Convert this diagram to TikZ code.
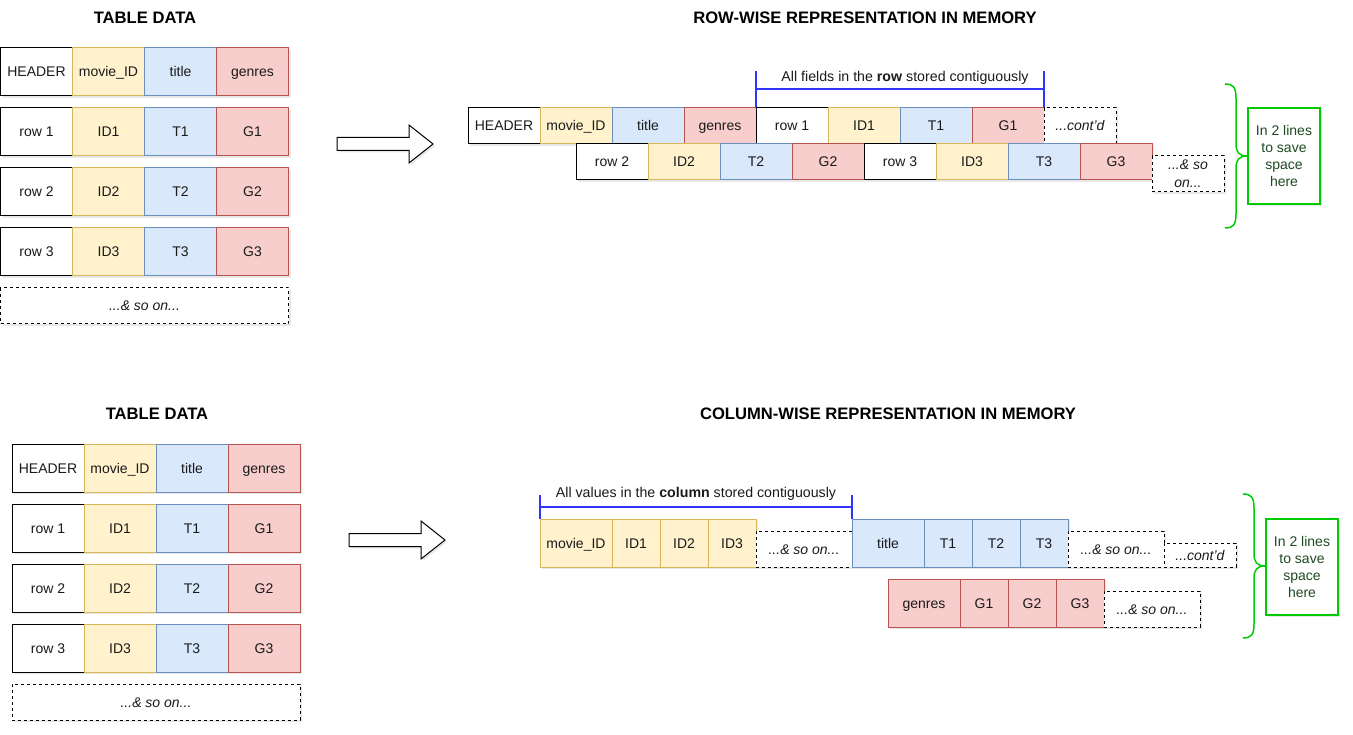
\documentclass[tikz,border=0pt]{standalone}
\usepackage{fontspec}
\setmainfont{Liberation Sans}
\usetikzlibrary{shadows,calc}
\definecolor{yfill}{HTML}{FFF2CC}\definecolor{ydraw}{HTML}{D6B656}
\definecolor{bfill}{HTML}{DAE8FC}\definecolor{bdraw}{HTML}{6C8EBF}
\definecolor{rfill}{HTML}{F8CECC}\definecolor{rdraw}{HTML}{B85450}
\definecolor{gline}{HTML}{00CC00}\definecolor{gtext}{HTML}{1F4A22}
\definecolor{bline}{HTML}{3333FF}\definecolor{txt}{HTML}{1A1A1A}
\tikzset{
  shd/.style={drop shadow={opacity=0.18, shadow xshift=2pt, shadow yshift=-2pt}},
  base/.style={rectangle, inner sep=0pt, line width=1pt, font=\fontsize{14}{17}\selectfont, text=txt, text height=10pt, text depth=0pt, shd},
  wc/.style={base, draw=black, fill=white},
  yc/.style={base, draw=ydraw, fill=yfill},
  bc/.style={base, draw=bdraw, fill=bfill},
  rc/.style={base, draw=rdraw, fill=rfill},
  dc/.style={base, draw=black, fill=white, dash pattern=on 3pt off 3pt, font=\fontsize{14}{18}\selectfont\itshape, align=center},
  multi/.style={text height=, text depth=},
  ttl/.style={font=\fontsize{16.6}{19}\selectfont\bfseries, text=black},
  blab/.style={font=\fontsize{14.2}{17}\selectfont, text=txt},
  bbr/.style={draw=bline, line width=2pt},
  gbr/.style={draw=gline, line width=1.5pt},
  gbox/.style={draw=gline, line width=1.5pt, fill=white, minimum width=72pt, minimum height=96pt, inner sep=0pt, align=center, text=gtext, font=\fontsize{14}{17}\selectfont, shd},
  arrowst/.style={draw=black, fill=white, line width=1pt, line join=miter, shd}
}
% style, name, x, y, w, h, text
\newcommand\cellat[7]{\node[#1, minimum width=#5, minimum height=#6] (#2) at ({#3+#5/2},{#4+#6/2}) {#7};}
% prefix, ox, oy
\newcommand\tbl[3]{%
  \cellat{wc}{#1h}{#2}{#3+48}{72}{48}{HEADER}
  \cellat{yc}{#1m}{#2+72}{#3+48}{72}{48}{movie\_ID}
  \cellat{bc}{#1t}{#2+144}{#3+48}{72}{48}{title}
  \cellat{rc}{#1g}{#2+216}{#3+48}{72}{48}{genres}
  \foreach \k in {1,2,3}{
    \cellat{wc}{#1r\k}{#2}{#3+48+60*\k}{72}{48}{row \k}
    \cellat{yc}{#1i\k}{#2+72}{#3+48+60*\k}{72}{48}{ID\k}
    \cellat{bc}{#1T\k}{#2+144}{#3+48+60*\k}{72}{48}{T\k}
    \cellat{rc}{#1G\k}{#2+216}{#3+48+60*\k}{72}{48}{G\k}
  }
  \cellat{dc}{#1s}{#2}{#3+288}{288}{36}{...\& so on...}
}
\newcommand\bigarrow[2]{%
  \draw[arrowst] (#1,#2-6.5) -- (#1+72,#2-6.5) -- (#1+72,#2-19) -- (#1+96,#2)
    -- (#1+72,#2+19) -- (#1+72,#2+6.5) -- (#1,#2+6.5) -- cycle;}
\newcommand\gbrace[2]{%
  \draw[gbr] (#1,#2) .. controls (#1+8,#2) and (#1+11,#2+3) .. (#1+11,#2+14)
    -- (#1+11,#2+60) .. controls (#1+11,#2+68) and (#1+14,#2+72) .. (#1+22,#2+72)
    .. controls (#1+14,#2+72) and (#1+11,#2+76) .. (#1+11,#2+84)
    -- (#1+11,#2+130) .. controls (#1+11,#2+141) and (#1+8,#2+144) .. (#1,#2+144);}
\begin{document}
\begin{tikzpicture}[x=1pt, y=-1pt]
\useasboundingbox (0,0) rectangle (1353,735);
% ---------- top half ----------
\node[ttl] (ttop) at (145,18) {TABLE DATA};
\node[ttl] (trow) at (865,18) {ROW-WISE REPRESENTATION IN MEMORY};
\tbl{a}{0.5}{0}
\bigarrow{337}{144}
% row-wise line 1
\cellat{wc}{rh}{468}{108}{72}{36}{HEADER}
\cellat{yc}{rm}{540}{108}{72}{36}{movie\_ID}
\cellat{bc}{rt}{612}{108}{72}{36}{title}
\cellat{rc}{rg}{684}{108}{72}{36}{genres}
\cellat{wc}{rr1}{756}{108}{72}{36}{row 1}
\cellat{yc}{ri1}{828}{108}{72}{36}{ID1}
\cellat{bc}{rT1}{900}{108}{72}{36}{T1}
\cellat{rc}{rG1}{972}{108}{72}{36}{G1}
\cellat{dc}{rc1}{1044}{108}{72}{36}{...cont'd}
% row-wise line 2
\cellat{wc}{rr2}{576}{144}{72}{36}{row 2}
\cellat{yc}{ri2}{648}{144}{72}{36}{ID2}
\cellat{bc}{rT2}{720}{144}{72}{36}{T2}
\cellat{rc}{rG2}{792}{144}{72}{36}{G2}
\cellat{wc}{rr3}{864}{144}{72}{36}{row 3}
\cellat{yc}{ri3}{936}{144}{72}{36}{ID3}
\cellat{bc}{rT3}{1008}{144}{72}{36}{T3}
\cellat{rc}{rG3}{1080}{144}{72}{36}{G3}
\cellat{dc,multi}{rs}{1152}{156}{72}{36}{...\& so\\on...}
% blue bracket (row)
\draw[bbr] (rr1.north west) -- ++(0,-36) (rr1.north west) ++(0,-18) -- ($(rc1.north west)+(0,-18)$)
  (rc1.north west) -- ++(0,-36);
\node[blab] (lrow) at (905,78) {All fields in the \textbf{row} stored contiguously};
% green brace and box
\gbrace{1225}{84}
\node[gbox] (g1) at (1284,156) {In 2 lines\\to save\\space\\here};
% ---------- bottom half ----------
\node[ttl] (tbot) at (157,414) {TABLE DATA};
\node[ttl] (tcol) at (888,414) {COLUMN-WISE REPRESENTATION IN MEMORY};
\tbl{b}{12}{396}
\bigarrow{349}{540}
% column-wise line 1
\cellat{yc}{cm}{540}{519}{72}{48}{movie\_ID}
\cellat{yc}{ci1}{612}{519}{48}{48}{ID1}
\cellat{yc}{ci2}{660}{519}{48}{48}{ID2}
\cellat{yc}{ci3}{708}{519}{48}{48}{ID3}
\cellat{dc}{cs1}{756}{531}{96}{36}{...\& so on...}
\cellat{bc}{ct}{852}{519}{72}{48}{title}
\cellat{bc}{cT1}{924}{519}{48}{48}{T1}
\cellat{bc}{cT2}{972}{519}{48}{48}{T2}
\cellat{bc}{cT3}{1020}{519}{48}{48}{T3}
\cellat{dc}{cs2}{1068}{531}{96}{36}{...\& so on...}
\cellat{dc}{cc}{1164}{543}{72}{24}{...cont'd}
% column-wise line 2
\cellat{rc}{cg}{888}{579}{72}{48}{genres}
\cellat{rc}{cG1}{960}{579}{48}{48}{G1}
\cellat{rc}{cG2}{1008}{579}{48}{48}{G2}
\cellat{rc}{cG3}{1056}{579}{48}{48}{G3}
\cellat{dc}{cs3}{1104}{591}{96}{36}{...\& so on...}
% blue bracket (column)
\draw[bbr] (cm.north west) -- ++(0,-24) (cm.north west) ++(0,-12) -- ($(ct.north west)+(0,-12)$)
  (ct.north west) -- ++(0,-24);
\node[blab] (lcol) at (696,494) {All values in the \textbf{column} stored contiguously};
% green brace and box
\gbrace{1243}{494}
\node[gbox] (g2) at (1302,567) {In 2 lines\\to save\\space\\here};
\end{tikzpicture}
\end{document}
